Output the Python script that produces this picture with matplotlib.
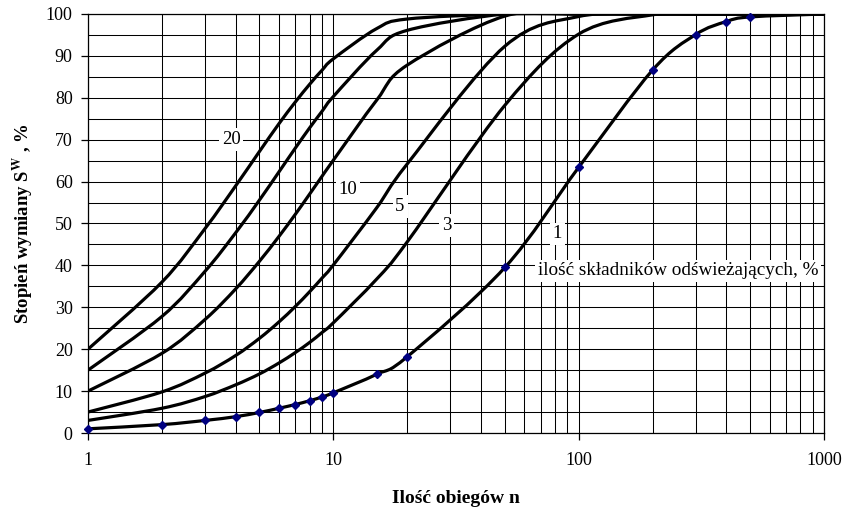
import numpy as np
import matplotlib
matplotlib.use("Agg")
import matplotlib.pyplot as plt
from matplotlib.path import Path
from matplotlib.patches import PathPatch
from matplotlib.ticker import FixedLocator, NullFormatter, FuncFormatter

plt.rcParams['font.family'] = ['Liberation Serif', 'DejaVu Serif']
plt.rcParams['mathtext.fontset'] = 'stix'

# ---- data ----
n = [1, 2, 3, 4, 5, 6, 7, 8, 9, 10, 15, 20, 50, 100, 200, 300, 400, 500, 1000]
s20 = [20, 36, 48.8, 59, 67.2, 73.8, 79, 83.2, 86.6, 89.3, 96.5, 98.8, 100, 100, 100, 100, 100, 100, 100]
s15 = [15, 27.8, 38.6, 47.8, 55.6, 62.3, 68, 72.8, 76.8, 80.3, 91.3, 96.1, 100, 100, 100, 100, 100, 100, 100]
s10 = [10, 19, 27.1, 34.4, 41, 46.9, 52.2, 57, 61.3, 65.1, 79.4, 87.8, 99.5, 100, 100, 100, 100, 100, 100]
s5 = [5, 9.8, 14.3, 18.5, 22.6, 26.5, 30.2, 33.7, 37, 40.1, 53.7, 64.2, 92.3, 99.4, 100, 100, 100, 100, 100]
s3 = [3, 5.9, 8.7, 11.5, 14.1, 16.7, 19.2, 21.6, 24, 26.3, 36.7, 45.6, 78.2, 95.2, 99.8, 100, 100, 100, 100]
s1 = [1, 2, 3, 3.9, 4.9, 5.9, 6.8, 7.7, 8.6, 9.6, 14, 18.2, 39.5, 63.4, 86.6, 95.1, 98.2, 99.3, 100]
series = [s20, s15, s10, s5, s3, s1]

x_ticks = [1, 10, 100, 1000]
x_ticklabels = ['1', '10', '100', '1000']
y_ticks = list(range(0, 101, 10))

fig = plt.figure(figsize=(8.47, 5.12), dpi=100)
ax = fig.add_axes([88 / 847, 1 - 433 / 512, 736 / 847, 419 / 512])
ax.set_xscale('log')
ax.set_xlim(1, 1000)
ax.set_ylim(0, 100)


def smooth_patch(xs, ys):
    """Excel-like smoothed line: Catmull-Rom Bezier in (log x, y) space."""
    p = np.column_stack([np.log10(np.asarray(xs, float)), np.asarray(ys, float)])
    m = len(p)
    verts = [p[0]]
    codes = [Path.MOVETO]
    for i in range(m - 1):
        p0 = p[i - 1] if i > 0 else p[i]
        p1 = p[i]
        p2 = p[i + 1]
        p3 = p[i + 2] if i + 2 < m else p[i + 1]
        c1 = p1 + (p2 - p0) / 6.0
        c2 = p2 - (p3 - p1) / 6.0
        verts += [c1, c2, p2]
        codes += [Path.CURVE4] * 3
    v = np.array(verts)
    v[:, 0] = 10 ** v[:, 0]
    return PathPatch(Path(v, codes), fill=False, edgecolor='black', lw=2.3,
                     capstyle='round', joinstyle='round', zorder=3)


for s in series:
    ax.add_patch(smooth_patch(n, s))

ax.plot(n, s1, ls='none', marker='D', ms=4, color='#000080',
        markevery=list(range(len(n) - 1)), zorder=4, clip_on=False)

# grid & ticks
ax.xaxis.set_major_locator(FixedLocator(x_ticks))
ax.xaxis.set_major_formatter(FuncFormatter(lambda v, p: x_ticklabels[x_ticks.index(int(round(v)))] if int(round(v)) in x_ticks else ''))
minor_x = [k * 10 ** d for d in range(3) for k in range(2, 10)]
ax.xaxis.set_minor_locator(FixedLocator(minor_x))
ax.xaxis.set_minor_formatter(NullFormatter())
ax.yaxis.set_major_locator(FixedLocator(y_ticks))
ax.yaxis.set_minor_locator(FixedLocator(list(range(5, 100, 10))))
ax.grid(True, which='both', color='black', lw=0.75, zorder=1)
ax.set_axisbelow(True)
ax.tick_params(axis='both', which='major', direction='out', length=5, width=0.9, labelsize=13)
ax.tick_params(axis='x', which='major', pad=9)
ax.tick_params(axis='y', which='major', pad=6)
ax.tick_params(which='minor', length=0)
for sp in ax.spines.values():
    sp.set_linewidth(0.9)

ax.set_xlabel('Ilość obiegów n', fontsize=14, fontweight='bold')
ax.xaxis.set_label_coords(0.5, -0.136)
ax.set_ylabel(r'Stopień wymiany S$^{\mathbf{W}}$ , %', fontsize=13.5, fontweight='bold')
ax.yaxis.set_label_coords(-0.072, 0.5)

bb = dict(facecolor='white', edgecolor='none', pad=2)
lab_kw = dict(fontsize=13.5, ha='center', va='center', bbox=bb, zorder=2)
ax.text(3.83, 70, '20', **lab_kw)
ax.text(11.5, 58, '10', **lab_kw)
ax.text(18.7, 54, '5', **lab_kw)
ax.text(29, 49.5, '3', **lab_kw)
ax.text(82, 47.5, '1', **lab_kw)
ax.text(68, 38.7, 'ilość składników odświeżających, %', fontsize=13.8, ha='left', va='center',
        bbox=bb, zorder=2)

fig.savefig('out.png', dpi=100)
